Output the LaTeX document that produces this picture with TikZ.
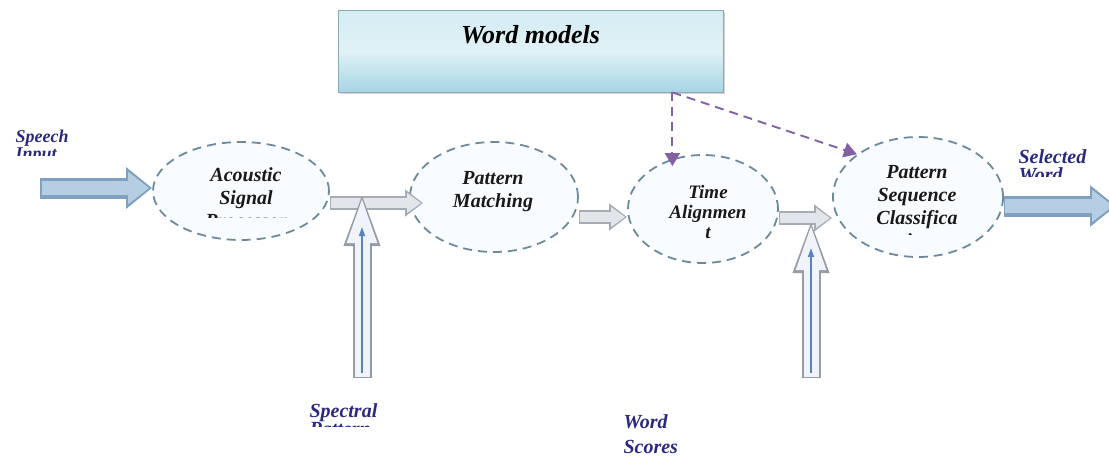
\documentclass[tikz,border=0pt]{standalone}
\usepackage{fontspec}
\setmainfont{Liberation Serif}
\usetikzlibrary{arrows.meta, shapes.geometric, shadows, positioning}

\definecolor{stagecol}{RGB}{108,138,156}
\definecolor{stagefillcol}{RGB}{248,252,254}
\definecolor{modeltopcol}{RGB}{212,236,243}
\definecolor{modelmidcol}{RGB}{224,241,246}
\definecolor{modelbotcol}{RGB}{166,213,226}
\definecolor{modeledgecol}{RGB}{140,170,180}
\definecolor{feedcol}{RGB}{128,98,165}
\definecolor{lblcol}{RGB}{42,40,128}
\definecolor{inedgecol}{RGB}{128,160,192}
\definecolor{incorecol}{RGB}{182,206,228}
\definecolor{passedgecol}{RGB}{165,172,182}
\definecolor{passcorecol}{RGB}{226,230,235}
\definecolor{upedgecol}{RGB}{150,156,166}
\definecolor{upcorecol}{RGB}{240,244,250}
\definecolor{upbluecol}{RGB}{90,130,190}

\tikzstyle{stage} = [ellipse, draw=stagecol, line width=1.8pt, dash pattern=on 9pt off 6pt, fill=stagefillcol, inner sep=0pt]
\tikzstyle{stagetext} = [align=center, text=black!90, font=\bfseries\itshape\fontsize{20}{23}\selectfont]
\tikzstyle{lbl} = [align=left, anchor=west, text=lblcol, font=\bfseries\itshape\fontsize{20}{18}\selectfont]
\tikzstyle{models} = [rectangle, draw=modeledgecol, line width=0.8pt, top color=modeltopcol, bottom color=modelbotcol, middle color=modelmidcol, drop shadow={shadow xshift=1.5pt, shadow yshift=-2pt, opacity=0.35}, minimum width=385pt, minimum height=82pt, inner sep=0pt, text height=33pt, text depth=49pt, font=\bfseries\itshape\fontsize{26}{28}\selectfont]
\tikzstyle{feed} = [feedcol, line width=1.9pt, dash pattern=on 9pt off 6pt, -{Triangle[length=13pt, width=15pt]}]
\tikzstyle{inarrow} = [inedgecol, line width=21pt, -{Triangle[length=26pt, width=40pt]}]
\tikzstyle{inarrowcore} = [incorecol, line width=14pt, shorten >=3pt, shorten <=1.5pt, -{Triangle[length=21pt, width=31pt]}]
\tikzstyle{pass} = [passedgecol, line width=14pt, -{Triangle[length=18pt, width=26pt]}]
\tikzstyle{passcore} = [passcorecol, line width=10pt, shorten >=2pt, shorten <=1pt, -{Triangle[length=14pt, width=19pt]}]
\tikzstyle{uparrow} = [upedgecol, line width=19pt, -{Triangle[length=55pt, width=32pt]}]
\tikzstyle{uparrowcore} = [upcorecol, line width=15pt, shorten >=3pt, shorten <=1.5pt, -{Triangle[length=49pt, width=26pt]}]
\tikzstyle{upthin} = [upbluecol, line width=1.6pt, -{Triangle[length=9pt, width=6pt]}]

\begin{document}
\begin{tikzpicture}[x=1pt, y=-1pt]
	\useasboundingbox (0,0) rectangle (1109,456);
	\node (models) [models] at (530.5,51) {Word models};
	\node (ac) [stage, minimum width=176pt, minimum height=98pt] at (241,191) {};
	\node (pm) [stage, minimum width=168pt, minimum height=110pt] at (494,197) {};
	\node (ta) [stage, minimum width=150pt, minimum height=108pt] at (703,209) {};
	\node (ps) [stage, minimum width=170pt, minimum height=120pt] at (918,197) {};
	% texts in the stages, cut off as in the scan
	\begin{scope}
		\clip (150,140) rectangle (335,217);
		\node (actxt) [stagetext] at (246,198) {Acoustic\\Signal\\Processor};
	\end{scope}
	\node (pmtxt) [stagetext] at (493,192) {Pattern\\Matching};
	\node (tatxt) [stagetext, font=\bfseries\itshape\fontsize{19}{20}\selectfont] at (708,212) {Time\\Alignmen\\t};
	\begin{scope}
		\clip (835,140) rectangle (1003,234);
		\node (pstxt) [stagetext] at (917,207) {Pattern\\Sequence\\Classifica\\tion};
	\end{scope}
	% outside labels
	\begin{scope}
		\clip (0,120) rectangle (120,155);
		\node (speechlbl) [lbl, font=\bfseries\itshape\fontsize{18}{17}\selectfont] at (12,147) {Speech\\Input};
	\end{scope}
	\begin{scope}
		\clip (1005,140) rectangle (1109,176);
		\node (selectedlbl) [lbl] at (1015,166) {Selected\\Word};
	\end{scope}
	\begin{scope}
		\clip (290,395) rectangle (420,426);
		\node (spectrallbl) [lbl] at (306,420) {Spectral\\Pattern};
	\end{scope}
	\node (scoreslbl) [lbl, font=\bfseries\itshape\fontsize{20}{25}\selectfont] at (620,434) {Word\\Scores};
	% block arrows along the chain
	\coordinate (sin) at (40,188);
	\draw[inarrow] (sin) -- (sin -| ac.west);
	\draw[inarrowcore] (sin) -- (sin -| ac.west);
	\coordinate (p1) at ([yshift=-12pt]ac.east);
	\coordinate (p1end) at ([xshift=14pt]pm.west);
	\draw[pass] (p1) -- (p1 -| p1end);
	\draw[passcore] (p1) -- (p1 -| p1end);
	\coordinate (p2) at ([yshift=-20pt]pm.east);
	\draw[pass] (p2) -- (p2 -| ta.west);
	\draw[passcore] (p2) -- (p2 -| ta.west);
	\coordinate (p3) at ([yshift=-9pt]ta.east);
	\draw[pass] (p3) -- (p3 -| ps.west);
	\draw[passcore] (p3) -- (p3 -| ps.west);
	\coordinate (pout) at ([yshift=-9pt]ps.east);
	\coordinate (sout) at (1116,206);
	\draw[inarrow] (pout) -- (sout);
	\draw[inarrowcore] (pout) -- (sout);
	% inputs from below
	\coordinate (spin) at (362,378);
	\coordinate (sptop) at (spin |- ac.center);
	\draw[uparrow] (spin) -- (sptop);
	\draw[uparrowcore] (spin) -- (sptop);
	\draw[upthin] ([yshift=5pt]spin) -- ([yshift=-36pt]sptop);
	\coordinate (wsin) at (811,378);
	\coordinate (wstop) at (wsin |- p3);
	\draw[uparrow] (wsin) -- (wstop);
	\draw[uparrowcore] (wsin) -- (wstop);
	\draw[upthin] ([yshift=5pt]wsin) -- ([yshift=-30pt]wstop);
	% word models feed
	\coordinate (mfoot) at ([xshift=-51pt]models.south east);
	\coordinate (tatop) at ([yshift=-12pt]ta.north);
	\draw[feed] (mfoot) -- (mfoot |- tatop);
	\draw[feed] (mfoot) -- (ps.145);
\end{tikzpicture}
\end{document}
